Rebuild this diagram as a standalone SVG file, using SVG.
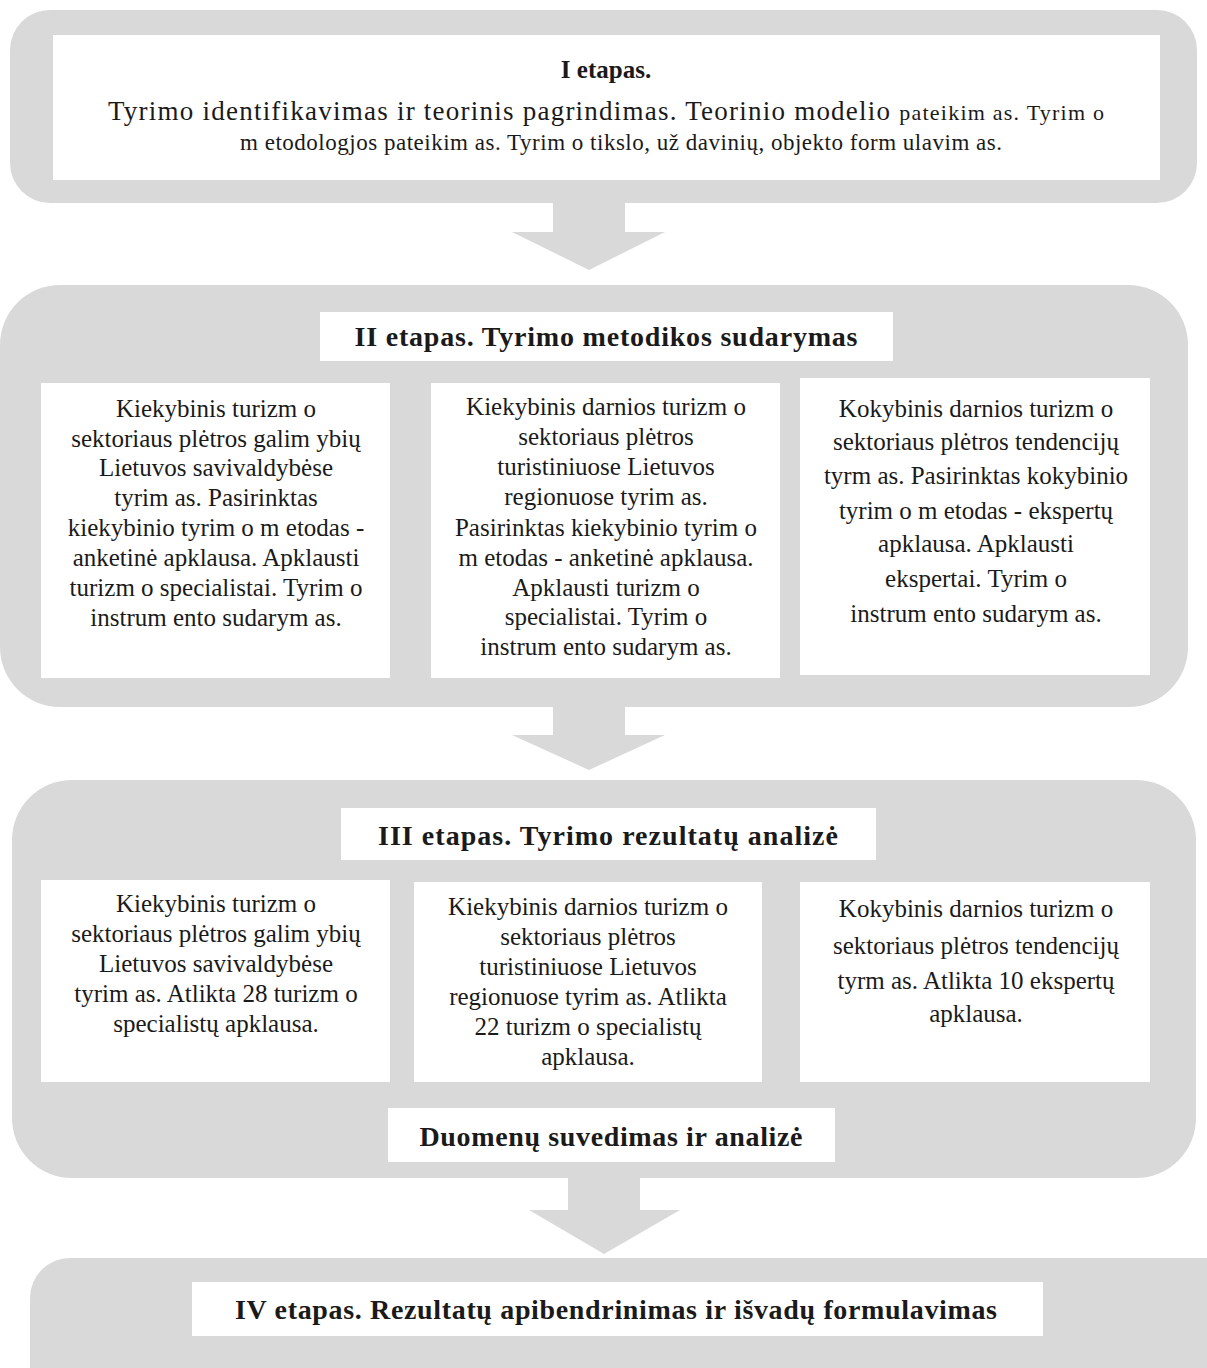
<svg xmlns="http://www.w3.org/2000/svg" width="1207" height="1368" viewBox="0 0 1207 1368">
<style>
.panel{fill:#d9d9d9}
.box{fill:#ffffff}
.arrow{fill:#d9d9d9}
text{font-family:"Liberation Serif","Times New Roman",serif;fill:#1a1a1a;text-anchor:middle}
.t{font-size:25px}
.b{font-size:28px;font-weight:bold}
</style>
<rect width="1207" height="1368" fill="#ffffff"/>
<g id="connectors">
<polygon class="arrow" points="553,200 625,200 625,232 665,232 589,270 512,232 553,232"/>
<polygon class="arrow" points="553,704 625,704 625,735 665,735 589,770 512,735 553,735"/>
<polygon class="arrow" points="568,1175 640,1175 640,1210 680,1210 604,1254 529,1210 568,1210"/>
</g>
<g id="stage1">
<rect class="panel" x="10" y="10" width="1187" height="193" rx="40"/>
<rect class="box" x="53" y="35" width="1107" height="145"/>
<text x="606" y="78" style="font-size:25px;font-weight:bold">I etapas.</text>
<text x="606" y="120" style="font-size:27px" textLength="996" lengthAdjust="spacing"><tspan>Tyrimo identifikavimas ir teorinis pagrindimas. Teorinio modelio </tspan><tspan style="font-size:22px">pateikim as. Tyrim o</tspan></text>
<text x="621" y="150" style="font-size:23px" textLength="762" lengthAdjust="spacing">m etodologjos pateikim as. Tyrim o tikslo, už davinių, objekto form ulavim as.</text>
</g>
<g id="stage2">
<rect class="panel" x="0" y="285" width="1188" height="422" rx="60"/>
<g id="stage2-title">
<rect class="box" x="320" y="312" width="573" height="49"/>
<text class="b" x="606" y="346" textLength="503" lengthAdjust="spacing">II etapas. Tyrimo metodikos sudarymas</text>
</g>
<g id="stage2-a">
<rect class="box" x="41" y="383" width="349" height="295"/>
<text class="t" x="216" y="417">Kiekybinis turizm o</text>
<text class="t" x="216" y="447">sektoriaus plėtros galim ybių</text>
<text class="t" x="216" y="476">Lietuvos savivaldybėse</text>
<text class="t" x="216" y="506">tyrim as. Pasirinktas</text>
<text class="t" x="216" y="536">kiekybinio tyrim o m etodas -</text>
<text class="t" x="216" y="566">anketinė apklausa. Apklausti</text>
<text class="t" x="216" y="596">turizm o specialistai. Tyrim o</text>
<text class="t" x="216" y="626">instrum ento sudarym as.</text>
</g>
<g id="stage2-b">
<rect class="box" x="431" y="383" width="349" height="295"/>
<text class="t" x="606" y="415">Kiekybinis darnios turizm o</text>
<text class="t" x="606" y="445">sektoriaus plėtros</text>
<text class="t" x="606" y="475">turistiniuose Lietuvos</text>
<text class="t" x="606" y="505">regionuose tyrim as.</text>
<text class="t" x="606" y="536">Pasirinktas kiekybinio tyrim o</text>
<text class="t" x="606" y="566">m etodas - anketinė apklausa.</text>
<text class="t" x="606" y="596">Apklausti turizm o</text>
<text class="t" x="606" y="625">specialistai. Tyrim o</text>
<text class="t" x="606" y="655">instrum ento sudarym as.</text>
</g>
<g id="stage2-c">
<rect class="box" x="800" y="378" width="350" height="297"/>
<text class="t" x="976" y="417">Kokybinis darnios turizm o</text>
<text class="t" x="976" y="450">sektoriaus plėtros tendencijų</text>
<text class="t" x="976" y="484">tyrm as. Pasirinktas kokybinio</text>
<text class="t" x="976" y="519">tyrim o m etodas - ekspertų</text>
<text class="t" x="976" y="552">apklausa. Apklausti</text>
<text class="t" x="976" y="587">ekspertai. Tyrim o</text>
<text class="t" x="976" y="622">instrum ento sudarym as.</text>
</g>
</g>
<g id="stage3">
<rect class="panel" x="12" y="780" width="1184" height="398" rx="60"/>
<g id="stage3-title">
<rect class="box" x="341" y="808" width="535" height="52"/>
<text class="b" x="608" y="845" textLength="460" lengthAdjust="spacing">III etapas.  Tyrimo rezultatų analizė</text>
</g>
<g id="stage3-a">
<rect class="box" x="41" y="880" width="349" height="202"/>
<text class="t" x="216" y="912">Kiekybinis turizm o</text>
<text class="t" x="216" y="942">sektoriaus plėtros galim ybių</text>
<text class="t" x="216" y="972">Lietuvos savivaldybėse</text>
<text class="t" x="216" y="1002">tyrim as. Atlikta 28 turizm o</text>
<text class="t" x="216" y="1032">specialistų apklausa.</text>
</g>
<g id="stage3-b">
<rect class="box" x="414" y="882" width="348" height="200"/>
<text class="t" x="588" y="915">Kiekybinis darnios turizm o</text>
<text class="t" x="588" y="945">sektoriaus plėtros</text>
<text class="t" x="588" y="975">turistiniuose Lietuvos</text>
<text class="t" x="588" y="1005">regionuose tyrim as. Atlikta</text>
<text class="t" x="588" y="1035">22 turizm o specialistų</text>
<text class="t" x="588" y="1065">apklausa.</text>
</g>
<g id="stage3-c">
<rect class="box" x="800" y="882" width="350" height="200"/>
<text class="t" x="976" y="917">Kokybinis darnios turizm o</text>
<text class="t" x="976" y="954">sektoriaus plėtros tendencijų</text>
<text class="t" x="976" y="989">tyrm as.  Atlikta 10 ekspertų</text>
<text class="t" x="976" y="1022">apklausa.</text>
</g>
<g id="stage3-summary">
<rect class="box" x="388" y="1108" width="447" height="54"/>
<text class="b" x="611" y="1146" textLength="383" lengthAdjust="spacing">Duomenų suvedimas ir analizė</text>
</g>
</g>
<g id="stage4">
<rect class="panel" x="30" y="1258" width="1220" height="160" rx="40"/>
<rect class="box" x="192" y="1282" width="851" height="54"/>
<text class="b" x="616" y="1319" textLength="762" lengthAdjust="spacing">IV etapas. Rezultatų apibendrinimas ir išvadų formulavimas</text>
</g>
</svg>
